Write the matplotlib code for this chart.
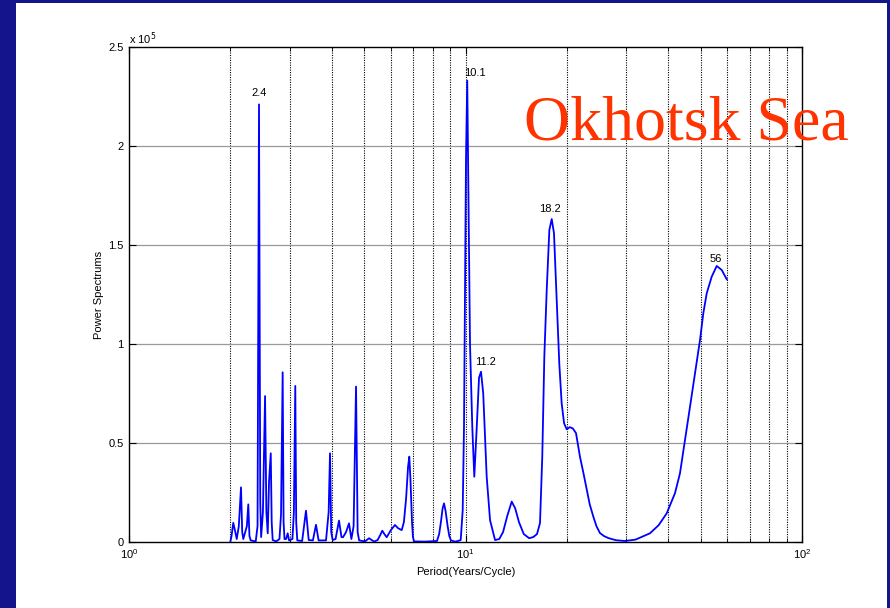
"""Power spectrum of the Okhotsk Sea series, log period axis"""
import matplotlib
matplotlib.use("Agg")
import matplotlib.pyplot as plt
from matplotlib.patches import Rectangle
from matplotlib.ticker import FixedLocator, NullFormatter

plt.rcParams["font.family"] = ["Liberation Sans", "DejaVu Sans"]

# period (years/cycle) and power
period = [2.00, 2.017, 2.041, 2.07, 2.09, 2.12, 2.152, 2.17, 2.186, 2.24,
          2.262, 2.28, 2.30, 2.38, 2.41, 2.434, 2.455, 2.47, 2.50, 2.537,
          2.56, 2.584, 2.607, 2.638, 2.655, 2.673, 2.735, 2.80, 2.83, 2.862,
          2.88, 2.898, 2.93, 2.962, 2.99, 3.06, 3.09, 3.120, 3.14, 3.163,
          3.27, 3.357, 3.42, 3.52, 3.595, 3.66, 3.85, 3.92, 3.957, 3.99,
          4.03, 4.11, 4.208, 4.28, 4.325, 4.415, 4.506, 4.58, 4.65, 4.728,
          4.78, 4.83, 5.03, 5.167, 5.35, 5.48, 5.58, 5.659, 5.74, 5.832,
          6.0, 6.173, 6.3, 6.463, 6.56, 6.66, 6.75, 6.808, 6.86, 6.935,
          6.98, 7.031, 7.578, 8.228, 8.35, 8.45, 8.55, 8.632, 8.72, 8.85,
          8.95, 9.055, 9.307, 9.5, 9.677, 9.81, 9.898, 9.966, 10.034, 10.12,
          10.313, 10.476, 10.62, 10.80, 10.97, 11.12, 11.29, 11.56, 11.83, 12.24,
          12.6, 12.93, 13.3, 13.72, 14.05, 14.42, 14.9, 15.47, 15.9, 16.31,
          16.65, 16.91, 17.15, 17.43, 17.75, 18.04, 18.32, 18.66, 19.00, 19.31,
          19.63, 19.99, 20.4, 20.83, 21.30, 21.89, 22.4, 22.93, 23.4, 23.98,
          24.5, 25.10, 25.8, 26.57, 28.0, 29.79, 32.0, 35.34, 37.5, 39.63,
          41.94, 43.39, 44.92, 46.47, 48.09, 49.76, 50.90, 52.10, 53.91, 55.79,
          57.73, 59.74]
power = [0, 3000, 9700, 5000, 1500, 8000, 27600, 5000, 1500, 8000,
         19000, 3000, 800, 300, 8000, 221000, 20000, 2500, 15000, 73700,
         15000, 4400, 30500, 44800, 10000, 1000, 300, 1500, 14000, 85700,
         10000, 1500, 1500, 4400, 800, 1500, 15000, 78800, 10000, 800,
         500, 15800, 1000, 800, 8700, 800, 800, 15000, 44800, 5000,
         1000, 1500, 10800, 2500, 2400, 5000, 9400, 1500, 8000, 78500,
         5000, 800, 300, 1900, 200, 1000, 3500, 5700, 4000, 2400,
         6000, 8600, 7000, 6000, 10000, 22000, 38000, 43100, 32000, 10000,
         2500, 300, 200, 500, 4000, 10000, 17000, 19500, 16000, 8000,
         3000, 800, 200, 500, 1000, 16000, 58000, 126000, 193000, 233000,
         100000, 58000, 33000, 58000, 83000, 86000, 75000, 33000, 11000, 1000,
         1500, 5000, 13000, 20400, 17000, 10000, 4000, 1900, 2500, 4000,
         9600, 43000, 93600, 127000, 157600, 163100, 156000, 122000, 90000, 70000,
         60000, 56900, 58000, 57400, 55000, 43000, 35000, 26300, 19000, 12800,
         8000, 4500, 3000, 2000, 900, 500, 1200, 4400, 8500, 14500,
         24700, 34700, 51500, 68300, 85300, 102000, 115500, 125600, 134000, 139400,
         137400, 132700]

# labelled peaks
peak_labels = ["2.4", "10.1", "11.2", "18.2", "56"]
peak_x = [2.43, 10.7, 11.45, 17.8, 55.5]
peak_y = [224000, 234500, 88500, 165500, 140500]

y_ticks = [0, 50000, 100000, 150000, 200000, 250000]
y_tick_labels = ["0", "0.5", "1", "1.5", "2", "2.5"]

navy = "#14148c"
fig = plt.figure(figsize=(8.9, 6.08), dpi=100, facecolor=navy)
fig.patches.append(Rectangle((16 / 890, 0), 871 / 890, 605 / 608,
                             transform=fig.transFigure, facecolor="white",
                             edgecolor="none", zorder=-10))

ax = fig.add_axes([129 / 890, 66 / 608, 673 / 890, 495 / 608])
ax.set_xscale("log")
ax.set_xlim(1, 100)
ax.set_ylim(0, 250000)

ax.plot(period, power, color="#0000ff", linewidth=1.3, zorder=3)

# MATLAB-like grid: dotted verticals, grey horizontals
for v in [2, 3, 4, 5, 6, 7, 8, 9, 10, 20, 30, 40, 50, 60, 70, 80, 90]:
    ax.axvline(v, color="black", linestyle=(0, (1, 1.2)), linewidth=0.8, zorder=1)
for h in y_ticks[1:-1]:
    ax.axhline(h, color="0.6", linewidth=0.9, zorder=1)

ax.set_yticks(y_ticks)
ax.set_yticklabels(y_tick_labels)
ax.xaxis.set_minor_locator(FixedLocator([2, 3, 4, 5, 6, 7, 8, 9, 20, 30, 40, 50, 60, 70, 80, 90]))
ax.xaxis.set_minor_formatter(NullFormatter())
ax.tick_params(axis="both", which="both", direction="in", top=True, right=True,
               labelsize=8, pad=4)
ax.tick_params(axis="both", which="major", length=5)
ax.tick_params(axis="both", which="minor", length=3)
for s in ax.spines.values():
    s.set_linewidth(1.0)

ax.text(0.0, 1.0, r"x 10$^{5}$", transform=ax.transAxes, fontsize=8,
        ha="left", va="bottom")

for lab, px, py in zip(peak_labels, peak_x, peak_y):
    ax.text(px, py, lab, fontsize=8, ha="center", va="bottom")

ax.set_xlabel("Period(Years/Cycle)", fontsize=8, labelpad=4)
ax.set_ylabel("Power Spectrums", fontsize=8, labelpad=3)

fig.text(686 / 890, 1 - 140 / 608, "Okhotsk Sea", color="#ff3300",
         fontsize=46, family="Liberation Serif", ha="center", va="baseline",
         zorder=5)

fig.savefig("out.png", dpi=100, facecolor=fig.get_facecolor())
